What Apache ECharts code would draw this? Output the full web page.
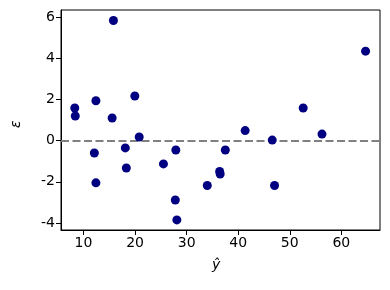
<!DOCTYPE html>
<html>
<head>
<meta charset="utf-8">
<script src="https://cdn.jsdelivr.net/npm/echarts@6/dist/echarts.min.js"></script>
<style>html,body{margin:0;padding:0;background:#fff}#c{width:390px;height:290px}</style>
</head>
<body>
<div id="c"></div>
<script>
var fitted = [8.3, 8.4, 12.4, 15.8, 15.55, 12.1, 12.4, 18.1, 18.3, 19.95, 20.8, 25.5, 27.9, 27.8, 28.1, 34.0, 36.4, 36.5, 37.5, 41.35, 46.6, 47.05, 52.6, 56.25, 64.7];
var residuals = [1.59, 1.20, 1.94, 5.84, 1.10, -0.60, -2.05, -0.35, -1.33, 2.17, 0.18, -1.13, -0.45, -2.88, -3.85, -2.18, -1.50, -1.62, -0.45, 0.49, 0.03, -2.18, 1.59, 0.32, 4.35];
var xTicks = [10, 20, 30, 40, 50, 60];
var yTicks = [-4, -2, 0, 2, 4, 6];
var xLabel = 'ŷ';
var yLabel = 'ε';

var points = fitted.map(function (x, i) { return [x, residuals[i]]; });
var font = 'DejaVu Sans';
function axisCommon(ticks) {
  return {
    axisLine: { show: true, onZero: false, lineStyle: { color: '#000', width: 1 } },
    axisTick: { show: true, length: 5, lineStyle: { color: '#000', width: 1 }, customValues: ticks },
    axisLabel: { color: '#000', fontSize: 14, fontFamily: font, margin: 6, customValues: ticks },
    splitLine: { show: false }
  };
}
var xAxis = Object.assign({ type: 'value', min: 5.63, max: 67.5 }, axisCommon(xTicks));
var yAxis = Object.assign({ type: 'value', min: -4.34, max: 6.35 }, axisCommon(yTicks));
var chart = echarts.init(document.getElementById('c'), null, { renderer: 'canvas' });
chart.setOption({
  animation: false,
  grid: { left: 61, top: 10, width: 319, height: 220, show: true, borderColor: '#000', borderWidth: 1, backgroundColor: 'transparent' },
  xAxis: xAxis,
  yAxis: yAxis,
  series: [{
    type: 'scatter',
    data: points,
    symbolSize: 9,
    itemStyle: { color: '#000080', opacity: 1 },
    z: 3,
    markLine: {
      silent: true,
      symbol: ['none', 'none'],
      label: { show: false },
      lineStyle: { color: '#808080', width: 2, type: [8, 3.5] },
      data: [{ yAxis: 0 }],
      z: 2
    }
  }],
  graphic: [
    { type: 'text', left: 212, top: 258, style: { text: xLabel, fontSize: 14, fontStyle: 'italic', fontFamily: font, fill: '#000' } },
    { type: 'text', x: 9, y: 128, rotation: Math.PI / 2, style: { text: yLabel, fontSize: 14, fontStyle: 'italic', fontFamily: font, fill: '#000' } }
  ]
});
</script>
</body>
</html>
